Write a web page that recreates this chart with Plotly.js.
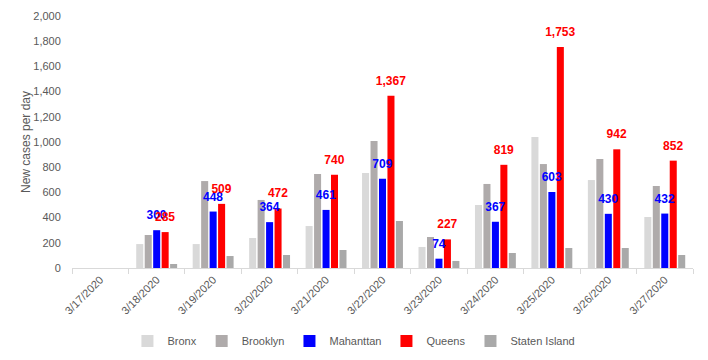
<!DOCTYPE html>
<html><head><meta charset="utf-8">
<script src="https://cdn.plot.ly/plotly-3.0.1.min.js"></script>
<style>html,body{margin:0;padding:0;background:#fff}#c{width:708px;height:360px}</style>
</head><body><div id="c"></div>
<script>
const dates = ["3/17/2020","3/18/2020","3/19/2020","3/20/2020","3/21/2020","3/22/2020","3/23/2020","3/24/2020","3/25/2020","3/26/2020","3/27/2020"];
const bronx = [0,190,190,238,333,754,167,500,1040,698,405];
const brooklyn = [0,262,690,540,746,1008,246,667,825,865,651];
const manhattan = [0,300,448,364,461,709,74,367,603,430,432];
const queens = [0,285,509,472,740,1367,227,819,1753,942,852];
const staten = [0,32,95,103,143,373,56,119,159,159,103];
const yTicks = [0,200,400,600,800,1000,1200,1400,1600,1800,2000];

const fmt = v => v === 0 ? "" : v.toLocaleString("en-US");
const font = "Liberation Sans Narrow, Arial Narrow, Liberation Sans, Arial, sans-serif";

const series = [
  {name:"Bronx", y:bronx, color:"#d9d9d9"},
  {name:"Brooklyn", y:brooklyn, color:"#afabab"},
  {name:"Mahanttan", y:manhattan, color:"#0000ff", label:true},
  {name:"Queens", y:queens, color:"#ff0000", label:true},
  {name:"Staten Island", y:staten, color:"#a9a9a9"}
];
// visible bars
const bars = series.map(s => ({type:"bar", x:dates, y:s.y, name:s.name, marker:{color:s.color}, hoverinfo:"none"}));
// transparent duplicate on an overlay axis to draw value labels above all bars
const labels = series.map(s => {
  const t = {type:"bar", x:dates, y:s.y, name:s.name, xaxis:"x2", yaxis:"y2", showlegend:false,
             marker:{color:"rgba(0,0,0,0)"}, hoverinfo:"none"};
  if (s.label) {
    t.text = s.y.map(fmt);
    t.textposition = "outside";
    t.textfont = {family:"Liberation Sans, Arial, sans-serif", size:12, color:s.color, weight:"bold"};
    t.cliponaxis = false;
    t.constraintext = "none";
  }
  return t;
});

const layout = {
  width:708, height:360,
  margin:{l:72, r:15, t:16, b:92, autoexpand:false},
  paper_bgcolor:"#fff", plot_bgcolor:"#fff",
  barmode:"group", bargap:0.25, bargroupgap:0.17,
  showlegend:true,
  legend:{orientation:"h", x:0.454, xanchor:"center", y:-0.29, yanchor:"middle",
          font:{family:font, size:11, color:"#595959"}, traceorder:"normal", itemwidth:30},
  xaxis:{type:"category", showline:true, linecolor:"#d9d9d9", linewidth:1,
         ticks:"outside", tickson:"boundaries", ticklen:5, tickcolor:"#d9d9d9",
         tickangle:-45, tickfont:{family:font, size:11, color:"#595959"}, showgrid:false, zeroline:false, automargin:false},
  yaxis:{range:[0,2000], tickvals:yTicks, ticktext:yTicks.map(v=>v.toLocaleString("en-US")),
         showgrid:false, zeroline:false, showline:false, automargin:false,
         ticks:"outside", ticklen:8, tickcolor:"rgba(0,0,0,0)",
         tickfont:{family:font, size:11, color:"#595959"},
         title:{text:"New cases per day", font:{family:font, size:12, color:"#595959"}, standoff:0}},
  xaxis2:{type:"category", overlaying:"x", visible:false, matches:"x"},
  yaxis2:{overlaying:"y", range:[-40,1960], visible:false},
  hovermode:false
};
Plotly.newPlot("c", bars.concat(labels), layout, {displayModeBar:false, staticPlot:true});
</script></body></html>
